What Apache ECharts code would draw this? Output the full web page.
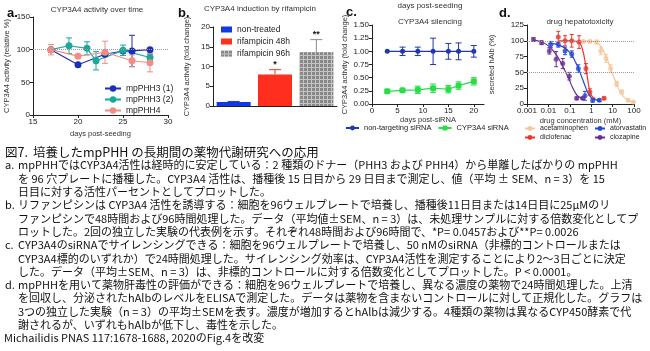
<!DOCTYPE html>
<html>
<head>
<meta charset="utf-8">
<script src="https://cdn.jsdelivr.net/npm/echarts@6/dist/echarts.min.js"></script>
<style>html,body{margin:0;background:#fff}#main{width:650px;height:351px}</style>
</head>
<body>
<div id="main"></div>
<script>
var chart = echarts.init(document.getElementById('main'));

var FONT = 'Liberation Sans';
var JFONT = '"Noto Sans CJK JP"';

// a. CYP3A4 activity over time
var aNames = ['mpPHH3 (1)', 'mpPHH3 (2)', 'mpPHH4'];
var aColors = ['#1c2fb8', '#18a99b', '#f28d86'];
var aDays = [[17, 20, 23, 25, 26, 28], [17, 19, 21, 22, 25, 28], [17, 20, 23, 26, 28]];
var aMean = [[100, 77, 93, 98, 98, 100], [100, 106, 102, 83, 99, 88], [100, 90, 96, 83, 80]];
var aSem = [[0, 0, 0, 0, 24, 0], [0, 12, 10, 14, 8, 5], [8, 0, 17, 9, 14]];
var aRef = [100];

// b. induction by rifampicin
var bCats = ['non-treated', 'rifampicin 48h', 'rifampicin 96h'];
var bColors = ['#1237e6', '#ff2e1e', '#c4c4c4'];
var bMean = [1.0, 8.0, 13.6];
var bSem = [0.15, 1.2, 3.2];
var bSig = ['', '*', '**'];

// c. silencing
var cNames = ['non-targeting siRNA', 'CYP3A4 siRNA'];
var cColors = ['#2238ad', '#2bdc4a'];
var cDays = [3, 6, 9, 12, 15, 17, 20];
var cMean = [[1, 1, 1, 1, 1, 1, 1], [0.24, 0.26, 0.27, 0.30, 0.28, 0.35, 0.43]];
var cSem = [[0, 0.08, 0.08, 0.25, 0.15, 0.16, 0.11], [0.03, 0.02, 0.07, 0.08, 0.07, 0.07, 0.07]];
var cTicks = [0, 5, 10, 15, 20];

// d. hepatotoxicity
var dNames = ['acetaminophen', 'atorvastatin', 'diclofenac', 'clozapine'];
var dColors = ['#f6c79c', '#2446d4', '#e8372c', '#6b2f92'];
var dConc = [
  [0.43, 0.87, 1.8, 2.8, 4.9, 8.1, 15.5, 27, 54, 93],
  [0.013, 0.029, 0.06, 0.123, 0.25, 0.51, 1.17, 2.4],
  [0.029, 0.06, 0.123, 0.27, 0.57, 0.87, 4],
  [0.002, 0.0048, 0.011, 0.023, 0.047, 0.095, 0.21, 0.4]
];
var dMean = [
  [99, 99, 98, 84, 72, 56, 32, 19, 6, 3],
  [94, 94, 84, 79, 56, 13, 6, 6],
  [106, 100, 100, 98, 56, 19, 9],
  [102, 97, 84, 71, 64, 44, 9, 9]
];
var dSem = [
  [2, 2, 3, 6, 6, 6, 4, 3, 2, 1],
  [5, 4, 6, 5, 6, 7, 3, 2],
  [9, 8, 10, 10, 8, 5, 2],
  [3, 3, 5, 12, 8, 6, 2, 2]
];
// fitted curves
var dFitConc = [
  [0.4, 1, 2, 3, 4, 5, 6.5, 8, 10, 13, 17, 22, 30, 45, 70, 95],
  [0.01, 0.02, 0.03, 0.05, 0.08, 0.12, 0.18, 0.25, 0.35, 0.5, 0.7, 1, 1.5, 2.4],
  [0.03, 0.1, 0.2, 0.3, 0.4, 0.5, 0.6, 0.7, 0.85, 1, 1.3, 1.6],
  [0.002, 0.005, 0.01, 0.02, 0.03, 0.045, 0.065, 0.09, 0.13, 0.18, 0.25, 0.4]
];
var dFitVal = [
  [100, 99.5, 96, 90, 82, 75, 65, 56, 47, 38, 28, 20, 13, 7, 4, 3],
  [96, 95, 93, 90, 85, 78, 67, 57, 44, 30, 18, 10, 7, 6],
  [100, 100, 99, 96, 85, 70, 52, 37, 21, 14, 10, 9],
  [101, 98, 92, 81, 72, 61, 50, 40, 27, 18, 12, 9]
];
var dRef = [100, 50];

var bodyLines = [
  ['a.', 'mpPHHではCYP3A4活性は経時的に安定している：2 種類のドナー（PHH3 および PHH4）から単離したばかりの mpPHH'],
  ['', 'を 96 穴プレートに播種した。CYP3A4 活性は、播種後 15 日目から 29 日目まで測定し、値（平均 ± SEM、n = 3）を 15'],
  ['', '日目に対する活性パーセントとしてプロットした。'],
  ['b.', 'リファンピシンは CYP3A4 活性を誘導する：細胞を96ウェルプレートで培養し、播種後11日目または14日目に25μMのリ'],
  ['', 'ファンピシンで48時間および96時間処理した。データ（平均値±SEM、n = 3）は、未処理サンプルに対する倍数変化としてプ'],
  ['', 'ロットした。2回の独立した実験の代表例を示す。それぞれ48時間および96時間で、*P= 0.0457および**P= 0.0026'],
  ['c.', 'CYP3A4のsiRNAでサイレンシングできる：細胞を96ウェルプレートで培養し、50 nMのsiRNA（非標的コントロールまたは'],
  ['', 'CYP3A4標的のいずれか）で24時間処理した。サイレンシング効率は、CYP3A4活性を測定することにより2〜3日ごとに決定'],
  ['', 'した。データ（平均±SEM、n = 3）は、非標的コントロールに対する倍数変化としてプロットした。P < 0.0001。'],
  ['d.', 'mpPHHを用いて薬物肝毒性の評価ができる：細胞を96ウェルプレートで培養し、異なる濃度の薬物で24時間処理した。上清'],
  ['', 'を回収し、分泌されたhAlbのレベルをELISAで測定した。データは薬物を含まないコントロールに対して正規化した。グラフは'],
  ['', '3つの独立した実験（n = 3）の平均±SEMを表す。濃度が増加するとhAlbは減少する。4種類の薬物は異なるCYP450酵素で代'],
  ['', '謝されるが、いずれもhAlbが低下し、毒性を示した。']
];

function zip(xs, ys, es) {
  return xs.map(function (x, i) { return es ? [x, ys[i], es[i]] : [x, ys[i]]; });
}

function errRender(cap, upOnly, colors, labels) {
  return function (params, api) {
    var x = api.value(0), m = api.value(1), e = api.value(2);
    if (!e) return;
    var hi = api.coord([x, m + e]);
    var lo = api.coord([x, upOnly ? m : m - e]);
    var col = colors ? colors[params.dataIndex] : api.visual('color');
    var st = {stroke: col, lineWidth: 1};
    var kids = [
      {type: 'line', shape: {x1: hi[0], y1: hi[1], x2: lo[0], y2: lo[1]}, style: st},
      {type: 'line', shape: {x1: hi[0] - cap / 2, y1: hi[1], x2: hi[0] + cap / 2, y2: hi[1]}, style: st}
    ];
    if (!upOnly) {
      kids.push({type: 'line', shape: {x1: lo[0] - cap / 2, y1: lo[1], x2: lo[0] + cap / 2, y2: lo[1]}, style: st});
    }
    if (labels && labels[params.dataIndex]) {
      kids.push({type: 'text', x: hi[0], y: hi[1] - 5,
        style: {text: labels[params.dataIndex], align: 'center', verticalAlign: 'middle', textAlign: 'center', textVerticalAlign: 'middle', font: 'bold 9px ' + FONT, fill: '#111'}});
    }
    return {type: 'group', children: kids};
  };
}

function axis(o) {
  var base = {
    nameLocation: 'middle',
    nameTextStyle: {fontSize: 7.5, color: '#333', fontFamily: FONT},
    axisLine: {show: true, onZero: false, lineStyle: {color: '#222', width: 1}},
    axisTick: {show: true, length: 3, lineStyle: {color: '#222'}},
    axisLabel: {fontSize: 8, color: '#222', fontFamily: FONT, margin: 3},
    splitLine: {show: false}
  };
  for (var k in o) {
    if (base[k] && typeof base[k] === 'object' && typeof o[k] === 'object' && !Array.isArray(o[k])) {
      base[k] = Object.assign({}, base[k], o[k]);
    } else {
      base[k] = o[k];
    }
  }
  return base;
}

var refLine = function (vals) {
  return {
    silent: true, symbol: 'none', label: {show: false},
    lineStyle: {color: '#9a9a9a', type: 'dotted', width: 1},
    data: vals.map(function (v) { return {yAxis: v}; })
  };
};

var series = [];

// a: lines first so the legend takes its icon from them
aNames.forEach(function (n, i) {
  series.push({
    type: 'line', name: n, xAxisIndex: 0, yAxisIndex: 0,
    color: aColors[i], symbol: 'circle', symbolSize: 7,
    lineStyle: {width: 1.2}, data: zip(aDays[i], aMean[i]), z: 3,
    markLine: i === 0 ? refLine(aRef) : undefined
  });
});
aNames.forEach(function (n, i) {
  series.push({
    type: 'custom', name: n, xAxisIndex: 0, yAxisIndex: 0,
    itemStyle: {color: aColors[i]},
    renderItem: errRender(6, false), data: zip(aDays[i], aMean[i], aSem[i]), z: 1
  });
});

// b
bCats.forEach(function (n, i) {
  var st = {color: bColors[i]};
  if (i === 2) {
    st.decal = {symbol: 'rect', symbolSize: 1, color: '#888888', dashArrayX: [3, 1], dashArrayY: [3, 1]};
  }
  series.push({
    type: 'bar', name: n, xAxisIndex: 1, yAxisIndex: 1, stack: 'b', barWidth: 34,
    itemStyle: st,
    data: bMean.map(function (v, j) { return j === i ? v : '-'; })
  });
});
series.push({
  type: 'custom', xAxisIndex: 1, yAxisIndex: 1,
  renderItem: errRender(12, true, ['#1237e6', '#ff2e1e', '#8a8a8a'], bSig),
  data: bMean.map(function (v, i) { return [i, v, bSem[i]]; }), z: 3
});

// c
cNames.forEach(function (n, i) {
  series.push({
    type: 'line', name: n, xAxisIndex: 2, yAxisIndex: 2,
    color: cColors[i], symbol: i === 0 ? 'circle' : 'roundRect', symbolSize: i === 0 ? 5 : 6,
    lineStyle: {width: 1.2}, data: zip(cDays, cMean[i]), z: 3
  });
});
cNames.forEach(function (n, i) {
  series.push({
    type: 'custom', name: n, xAxisIndex: 2, yAxisIndex: 2,
    itemStyle: {color: cColors[i]},
    renderItem: errRender(6, false), data: zip(cDays, cMean[i], cSem[i]), z: 1
  });
});

// d
dNames.forEach(function (n, i) {
  series.push({
    type: 'line', name: n, xAxisIndex: 3, yAxisIndex: 3, smooth: true,
    color: dColors[i], symbol: 'none', lineStyle: {width: 1.2},
    data: zip(dFitConc[i], dFitVal[i]), z: 2,
    markLine: i === 0 ? refLine(dRef) : undefined
  });
});
dNames.forEach(function (n, i) {
  series.push({
    type: 'custom', name: n, xAxisIndex: 3, yAxisIndex: 3,
    itemStyle: {color: dColors[i]},
    renderItem: errRender(4, false), data: zip(dConc[i], dMean[i], dSem[i]), z: 1
  });
  series.push({
    type: 'scatter', name: n, xAxisIndex: 3, yAxisIndex: 3,
    color: dColors[i], symbol: 'circle', symbolSize: 5,
    data: zip(dConc[i], dMean[i]), z: 3
  });
});

var graphics = [];
function txt(x, y, s, font, fill, align) {
  graphics.push({type: 'text', x: x, y: y, silent: true,
    style: {text: s, font: font, fill: fill || '#111', align: align || 'left', textAlign: align || 'left',
      verticalAlign: 'middle', textVerticalAlign: 'middle'}});
}
txt(7, 13, 'a.', 'bold 13px ' + FONT);
txt(178, 13, 'b.', 'bold 13px ' + FONT);
txt(346, 12, 'c.', 'bold 13px ' + FONT);
txt(499, 13, 'd.', 'bold 13px ' + FONT);
txt(97, 10, 'CYP3A4 activity over time', '8px ' + FONT, '#333', 'center');
txt(260, 9, 'CYP3A4 induction by rifampicin', '8px ' + FONT, '#333', 'center');
txt(430, 6, 'days post-seeding', '8px ' + FONT, '#333', 'center');
txt(430, 22, 'CYP3A4 silencing', '8px ' + FONT, '#333', 'center');
txt(580, 22, 'drug hepatotoxicity', '8px ' + FONT, '#333', 'center');

var y0 = 152, lh = 13.3;
txt(5, y0, '図7.', '12.5px ' + JFONT);
txt(33, y0, '培養したmpPHH の長期間の薬物代謝研究への応用', '12.5px ' + JFONT);
bodyLines.forEach(function (l, i) {
  var y = y0 + (i + 1) * lh;
  if (l[0]) txt(5, y, l[0], '11px ' + JFONT);
  txt(18, y, l[1], '11px ' + JFONT);
});
txt(4, y0 + 14 * lh, 'Michailidis PNAS 117:1678-1688, 2020のFig.4を改変', '11px ' + JFONT);

var legText = {fontSize: 8.5, color: '#222', fontFamily: FONT};
var legSmall = {fontSize: 7.5, color: '#222', fontFamily: FONT};
var legTiny = {fontSize: 7, color: '#222', fontFamily: FONT};

var option = {
  animation: false,
  backgroundColor: '#fff',
  grid: [
    {left: 33, top: 17, width: 135, height: 98, outerBoundsMode: 'none'},
    {left: 213, top: 27, width: 124, height: 79, outerBoundsMode: 'none'},
    {left: 372, top: 25, width: 112, height: 79, outerBoundsMode: 'none'},
    {left: 527, top: 25, width: 107, height: 79, outerBoundsMode: 'none'}
  ],
  xAxis: [
    axis({gridIndex: 0, type: 'value', min: 15, max: 30, interval: 5, name: 'days post-seeding', nameGap: 15}),
    axis({gridIndex: 1, type: 'category', data: bCats, axisTick: {show: false}, axisLabel: {show: false}}),
    axis({gridIndex: 2, type: 'value', min: 0, max: 22, name: 'days post-siRNA', nameGap: 12,
      axisTick: {customValues: cTicks}, axisLabel: {customValues: cTicks}}),
    axis({gridIndex: 3, type: 'log', logBase: 10, min: 0.001, max: 100, name: 'drug concentration (mM)', nameGap: 13})
  ],
  yAxis: [
    axis({gridIndex: 0, type: 'value', min: 0, max: 150, interval: 50, name: 'CYP3A4 activity (relative %)', nameGap: 22}),
    axis({gridIndex: 1, type: 'value', min: 0, max: 20, interval: 5, name: 'CYP3A4 activity (fold change)', nameGap: 22}),
    axis({gridIndex: 2, type: 'value', min: 0, max: 1.5, interval: 0.25, name: 'CYP3A4 activity (fold change)', nameGap: 23,
      axisLabel: {formatter: function (v) { return v.toFixed(2); }}}),
    axis({gridIndex: 3, type: 'value', min: 0, max: 125, interval: 25, name: 'secreted hAlb (%)', nameGap: 31})
  ],
  legend: [
    {data: aNames, orient: 'vertical', left: 104, top: 84, itemWidth: 16, itemHeight: 8, itemGap: 2, padding: 0,
      selectedMode: false, textStyle: legText},
    {data: bCats, orient: 'vertical', left: 221, top: 25, itemWidth: 11, itemHeight: 6, itemGap: 3, padding: 0,
      icon: 'rect', selectedMode: false, textStyle: legText},
    {data: cNames, orient: 'horizontal', left: 345, top: 124, itemWidth: 13, itemHeight: 6, itemGap: 6, padding: 0,
      selectedMode: false, textStyle: legSmall},
    {data: [dNames[0], dNames[2]], orient: 'vertical', left: 524, top: 125, itemWidth: 10, itemHeight: 6, itemGap: 2, padding: 0,
      selectedMode: false, textStyle: legTiny},
    {data: [dNames[1], dNames[3]], orient: 'vertical', left: 594, top: 125, itemWidth: 10, itemHeight: 6, itemGap: 2, padding: 0,
      selectedMode: false, textStyle: legTiny}
  ],
  graphic: graphics,
  series: series
};

chart.setOption(option);
</script>
</body>
</html>
